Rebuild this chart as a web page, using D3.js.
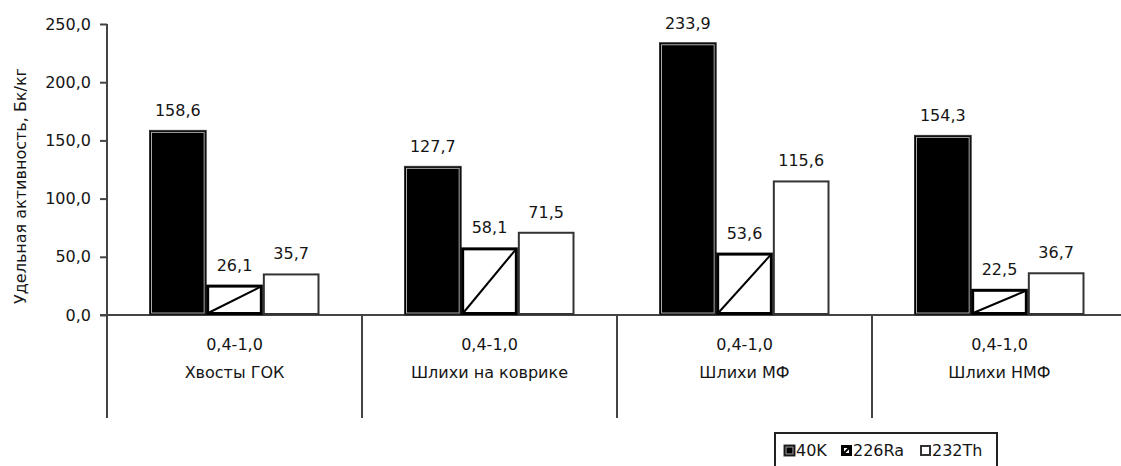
<!DOCTYPE html>
<html><head><meta charset="utf-8">
<script src="https://cdn.jsdelivr.net/npm/d3@7"></script>
<style>body{margin:0;background:#fff}svg{display:block}text{font-family:"DejaVu Sans",sans-serif;fill:#151515}</style>
</head><body>
<svg id="c" width="1121" height="466"></svg>
<script>
const categories = ["Хвосты ГОК", "Шлихи на коврике", "Шлихи МФ", "Шлихи НМФ"];
const fraction = ["0,4-1,0", "0,4-1,0", "0,4-1,0", "0,4-1,0"];
const seriesNames = ["40K", "226Ra", "232Th"];
const k40 = [158.6, 127.7, 233.9, 154.3];
const ra226 = [26.1, 58.1, 53.6, 22.5];
const th232 = [35.7, 71.5, 115.6, 36.7];
const yTicks = [0, 50, 100, 150, 200, 250];
const yTitle = "Удельная активность, Бк/кг";

const series = [k40, ra226, th232];
const svg = d3.select("#c");
const fmt = v => d3.format(".1f")(v).replace(".", ",");
const FS = 16;

const x0 = 107, step = 255;
const x = d3.scaleBand().domain(d3.range(categories.length)).range([x0, x0 + step * categories.length]).paddingInner(0).paddingOuter(0);
const xs = d3.scaleBand().domain(d3.range(seriesNames.length)).range([0, x.bandwidth()]).paddingInner(0).paddingOuter(0.75);
const y = d3.scaleLinear().domain([0, 250]).range([315, 24]);

// y axis
const yAxis = d3.axisLeft(y).tickValues(yTicks).tickSize(7).tickPadding(9).tickFormat(fmt);
const gy = svg.append("g").attr("transform", `translate(${x0},0)`).call(yAxis);
gy.select(".domain").remove();
gy.selectAll(".tick line").attr("stroke", "#444").attr("stroke-width", 2);
gy.selectAll(".tick text").attr("font-size", FS).attr("fill", "#151515").style("font-family", "DejaVu Sans, sans-serif");
svg.append("line").attr("x1", x0).attr("x2", x0).attr("y1", y(250)).attr("y2", 418).attr("stroke", "#444").attr("stroke-width", 2);
svg.append("line").attr("x1", x0 - 7).attr("x2", 1121).attr("y1", y(0)).attr("y2", y(0)).attr("stroke", "#444").attr("stroke-width", 2);

// category dividers
d3.range(1, categories.length).forEach(i => {
  svg.append("line").attr("x1", x(i)).attr("x2", x(i)).attr("y1", y(0)).attr("y2", 418).attr("stroke", "#444").attr("stroke-width", 2);
});

// category labels
categories.forEach((c, i) => {
  const cx = x(i) + x.bandwidth() / 2;
  svg.append("text").attr("x", cx).attr("y", 350).attr("text-anchor", "middle").attr("font-size", FS).text(fraction[i]);
  svg.append("text").attr("x", cx).attr("y", 378).attr("text-anchor", "middle").attr("font-size", FS).text(c);
});

// y title
svg.append("text").attr("transform", "translate(26,186) rotate(-90)").attr("text-anchor", "middle").attr("font-size", FS).text(yTitle);

function drawMark(g, s, bx, by, w, h) {
  if (s === 0) {
    g.append("rect").attr("x", bx).attr("y", by).attr("width", w).attr("height", h).attr("fill", "#000").attr("stroke", "#333").attr("stroke-width", 1);
    if (w > 6 && h > 6) g.append("rect").attr("x", bx + 2).attr("y", by + 2).attr("width", w - 4).attr("height", h - 4).attr("fill", "none").attr("stroke", "#aaa").attr("stroke-width", 1);
  } else if (s === 1) {
    g.append("rect").attr("x", bx + 1.5).attr("y", by + 1.5).attr("width", w - 3).attr("height", h - 3).attr("fill", "#fff").attr("stroke", "#000").attr("stroke-width", 3);
    g.append("line").attr("x1", bx + 2).attr("y1", by + h - 2).attr("x2", bx + w - 2).attr("y2", by + 2).attr("stroke", "#000").attr("stroke-width", 2);
  } else {
    g.append("rect").attr("x", bx + 1).attr("y", by + 1).attr("width", w - 2).attr("height", h - 2).attr("fill", "#fff").attr("stroke", "#333").attr("stroke-width", 2);
  }
}

// bars
series.forEach((vals, s) => {
  vals.forEach((v, i) => {
    const bx = x(i) + xs(s), w = xs.bandwidth();
    const g = svg.append("g");
    drawMark(g, s, bx, y(v), w, y(0) - y(v));
    svg.append("text").attr("x", bx + w / 2).attr("y", y(v) - 14).attr("text-anchor", "middle").attr("font-size", FS).text(fmt(v));
  });
});

// legend
const lg = svg.append("g");
lg.append("rect").attr("x", 775).attr("y", 433).attr("width", 222).attr("height", 40).attr("fill", "#fff").attr("stroke", "#222").attr("stroke-width", 2);
const legX = [784, 841, 920];
seriesNames.forEach((n, s) => {
  drawMark(lg, s, legX[s], 445, 11, 11);
  lg.append("text").attr("x", legX[s] + 12).attr("y", 456).attr("font-size", FS).text(n);
});
</script>
</body></html>
